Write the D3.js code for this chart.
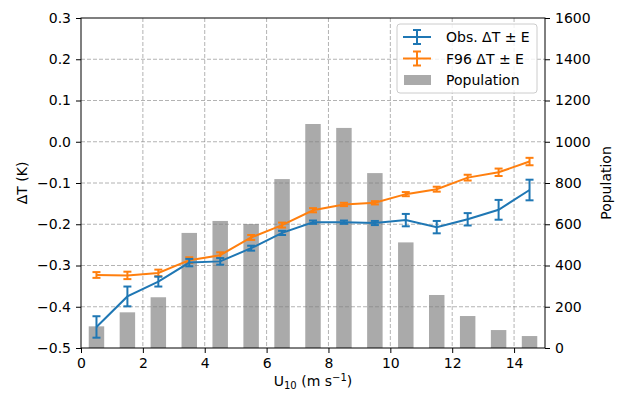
<!DOCTYPE html>
<html>
<head>
<meta charset="utf-8">
<script src="https://cdn.jsdelivr.net/npm/d3@7"></script>
<style>
body { margin: 0; background: #fff; }
text { font-family: "DejaVu Sans", sans-serif; }
</style>
</head>
<body>
<div id="chart"></div>
<script>
// wind speed bins (m/s)
let windBins = [0.5, 1.5, 2.5, 3.5, 4.5, 5.5, 6.5, 7.5, 8.5, 9.5, 10.5, 11.5, 12.5, 13.5, 14.5];
let obsDT = [-0.449, -0.375, -0.339, -0.293, -0.290, -0.258, -0.221, -0.195, -0.195, -0.197, -0.190, -0.207, -0.188, -0.165, -0.117];
let obsErr = [0.026, 0.024, 0.012, 0.009, 0.008, 0.006, 0.005, 0.004, 0.004, 0.005, 0.015, 0.015, 0.015, 0.024, 0.025];
let f96DT = [-0.323, -0.324, -0.318, -0.287, -0.275, -0.232, -0.202, -0.166, -0.152, -0.148, -0.127, -0.115, -0.087, -0.074, -0.048];
let f96Err = [0.007, 0.009, 0.008, 0.007, 0.007, 0.006, 0.006, 0.005, 0.004, 0.004, 0.005, 0.006, 0.007, 0.009, 0.009];
let population = [105, 173, 246, 558, 616, 601, 819, 1086, 1067, 848, 512, 257, 155, 87, 58];

let xTicks = [0, 2, 4, 6, 8, 10, 12, 14];
let yTicks = [-0.5, -0.4, -0.3, -0.2, -0.1, 0.0, 0.1, 0.2, 0.3];
let popTicks = [0, 200, 400, 600, 800, 1000, 1200, 1400, 1600];

let svgWidth = 622;
let svgHeight = 393;
let margin = { top: 18, right: 77, bottom: 45, left: 81 };
let width = svgWidth - margin.left - margin.right;
let height = svgHeight - margin.top - margin.bottom;

let svg = d3.select("#chart")
    .append("svg")
    .attr("width", svgWidth)
    .attr("height", svgHeight);

let chartGroup = svg.append("g")
    .attr("transform", `translate(${margin.left}, ${margin.top})`);

let xScale = d3.scaleLinear().domain([0, 15]).range([0, width]);
let yScale = d3.scaleLinear().domain([-0.5, 0.3]).range([height, 0]);
let popScale = d3.scaleLinear().domain([0, 1600]).range([height, 0]);

// population bars
let barW = xScale(0.5) - xScale(0);
chartGroup.append("g")
    .selectAll("rect")
    .data(windBins)
    .enter()
    .append("rect")
    .attr("x", d => xScale(d) - barW / 2)
    .attr("width", barW)
    .attr("y", (d, i) => popScale(population[i]))
    .attr("height", (d, i) => height - popScale(population[i]))
    .attr("fill", "#aaaaaa");

// grid (drawn over the bars, semi transparent)
chartGroup.append("g")
    .selectAll("line")
    .data(xTicks.slice(1))
    .enter()
    .append("line")
    .attr("x1", d => xScale(d))
    .attr("x2", d => xScale(d))
    .attr("y1", 0)
    .attr("y2", height)
    .attr("stroke", "#808080")
    .attr("stroke-opacity", 0.6)
    .attr("stroke-width", 1)
    .attr("stroke-dasharray", "4,2");

chartGroup.append("g")
    .selectAll("line")
    .data(yTicks.slice(1, -1))
    .enter()
    .append("line")
    .attr("x1", 0)
    .attr("x2", width)
    .attr("y1", d => yScale(d))
    .attr("y2", d => yScale(d))
    .attr("stroke", "#808080")
    .attr("stroke-opacity", 0.6)
    .attr("stroke-width", 1)
    .attr("stroke-dasharray", "4,2");

function drawSeries(values, errs, color) {
    let g = chartGroup.append("g");
    let line = d3.line()
        .x((d, i) => xScale(windBins[i]))
        .y(d => yScale(d));
    g.append("path")
        .datum(values)
        .attr("d", line)
        .attr("fill", "none")
        .attr("stroke", color)
        .attr("stroke-width", 2);
    let eb = g.selectAll(".eb")
        .data(values)
        .enter()
        .append("g");
    eb.append("line")
        .attr("x1", (d, i) => xScale(windBins[i]))
        .attr("x2", (d, i) => xScale(windBins[i]))
        .attr("y1", (d, i) => yScale(d - errs[i]))
        .attr("y2", (d, i) => yScale(d + errs[i]))
        .attr("stroke", color)
        .attr("stroke-width", 2);
    [-1, 1].forEach(s => {
        eb.append("line")
            .attr("x1", (d, i) => xScale(windBins[i]) - 4)
            .attr("x2", (d, i) => xScale(windBins[i]) + 4)
            .attr("y1", (d, i) => yScale(d + s * errs[i]))
            .attr("y2", (d, i) => yScale(d + s * errs[i]))
            .attr("stroke", color)
            .attr("stroke-width", 2);
    });
}

drawSeries(f96DT, f96Err, "#ff7f0e");
drawSeries(obsDT, obsErr, "#1f77b4");

// axes
let bottomAxis = d3.axisBottom(xScale).tickValues(xTicks).tickSize(5).tickPadding(5);
let leftAxis = d3.axisLeft(yScale).tickValues(yTicks).tickSize(5).tickPadding(5)
    .tickFormat(d => d3.format(".1f")(d).replace("-", "\u2212"));
let rightAxis = d3.axisRight(popScale).tickValues(popTicks).tickSize(5).tickPadding(5)
    .tickFormat(d3.format("d"));

[
    chartGroup.append("g").attr("transform", `translate(0, ${height})`).call(bottomAxis),
    chartGroup.append("g").call(leftAxis),
    chartGroup.append("g").attr("transform", `translate(${width}, 0)`).call(rightAxis)
].forEach(ax => {
    ax.selectAll("text").attr("font-size", 14).attr("fill", "#000").style("font-family", "DejaVu Sans");
    ax.selectAll("line").attr("stroke", "#000").attr("stroke-width", 1);
    ax.select(".domain").remove();
});

chartGroup.append("rect")
    .attr("width", width)
    .attr("height", height)
    .attr("fill", "none")
    .attr("stroke", "#000")
    .attr("stroke-width", 1);

// axis labels
svg.append("text")
    .attr("transform", `translate(27, ${margin.top + height / 2}) rotate(-90)`)
    .attr("text-anchor", "middle")
    .attr("font-size", 14)
    .text("\u0394T (K)");

svg.append("text")
    .attr("transform", `translate(611, ${margin.top + height / 2}) rotate(-90)`)
    .attr("text-anchor", "middle")
    .attr("font-size", 14)
    .text("Population");

let xLabel = svg.append("text")
    .attr("x", margin.left + width / 2)
    .attr("y", 386)
    .attr("text-anchor", "middle")
    .attr("font-size", 14);
xLabel.append("tspan").text("U");
xLabel.append("tspan").attr("font-size", 10).attr("dy", 3).text("10");
xLabel.append("tspan").attr("dy", -3).text(" (m s");
xLabel.append("tspan").attr("font-size", 10).attr("dy", -5).text("\u22121");
xLabel.append("tspan").attr("dy", 5).text(")");

// legend
let legend = svg.append("g").attr("transform", "translate(397, 24)");
legend.append("rect")
    .attr("width", 140)
    .attr("height", 69)
    .attr("rx", 3)
    .attr("fill", "#fff")
    .attr("fill-opacity", 0.8)
    .attr("stroke", "#cccccc");

let legItems = [
    { label: "Obs. \u0394T \u00b1 E", color: "#1f77b4", type: "line" },
    { label: "F96 \u0394T \u00b1 E", color: "#ff7f0e", type: "line" },
    { label: "Population", color: "#aaaaaa", type: "bar" }
];
legItems.forEach((item, i) => {
    let g = legend.append("g").attr("transform", `translate(0, ${13 + i * 21.5})`);
    if (item.type === "line") {
        g.append("line").attr("x1", 6).attr("x2", 34).attr("y1", 0).attr("y2", 0)
            .attr("stroke", item.color).attr("stroke-width", 2);
        g.append("line").attr("x1", 20).attr("x2", 20).attr("y1", -7).attr("y2", 7)
            .attr("stroke", item.color).attr("stroke-width", 2);
        g.append("line").attr("x1", 16).attr("x2", 24).attr("y1", -7).attr("y2", -7)
            .attr("stroke", item.color).attr("stroke-width", 2);
        g.append("line").attr("x1", 16).attr("x2", 24).attr("y1", 7).attr("y2", 7)
            .attr("stroke", item.color).attr("stroke-width", 2);
    } else {
        g.append("rect").attr("x", 7).attr("y", -5).attr("width", 27).attr("height", 10)
            .attr("fill", item.color);
    }
    g.append("text")
        .attr("x", 49)
        .attr("y", 5)
        .attr("font-size", 14)
        .text(item.label);
});
</script>
</body>
</html>
